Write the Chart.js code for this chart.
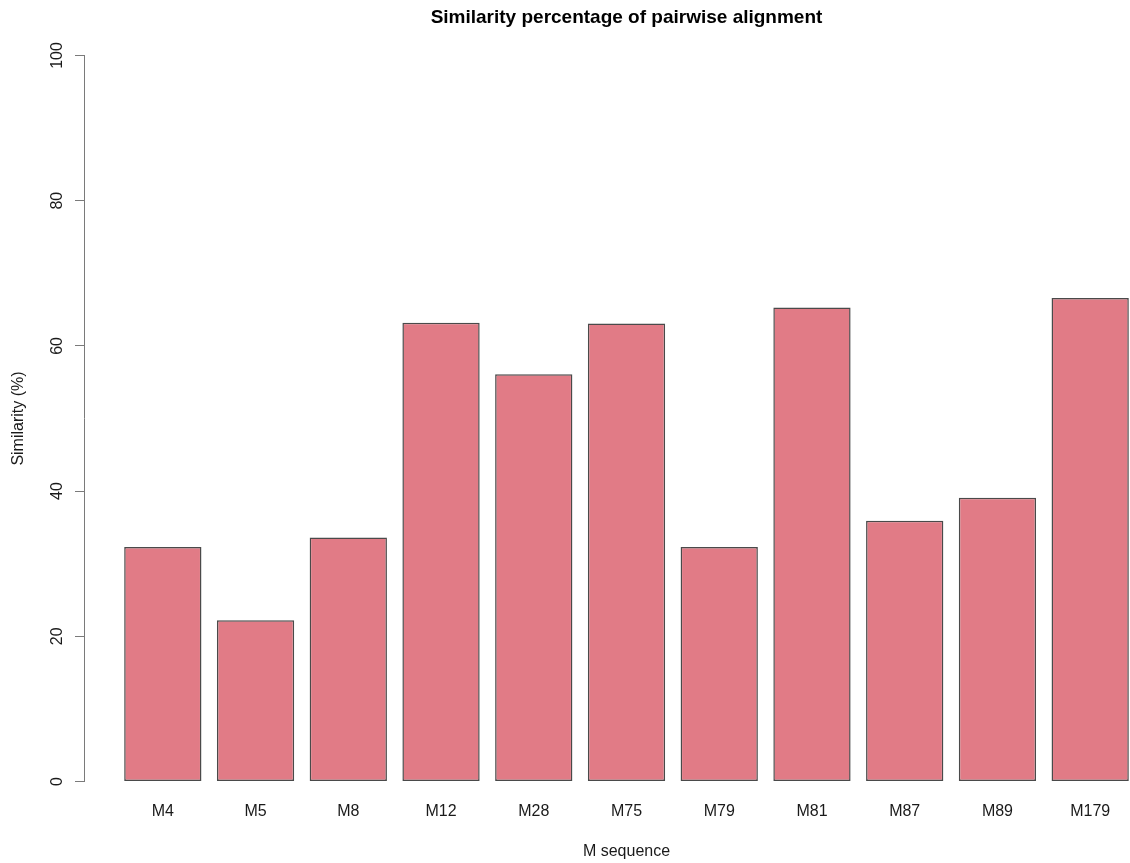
<!DOCTYPE html>
<html>
<head>
<meta charset="utf-8">
<title>Similarity percentage of pairwise alignment</title>
<script src="https://cdn.jsdelivr.net/npm/chart.js@4/dist/chart.umd.min.js"></script>
<style>
  html, body { margin: 0; padding: 0; background: #ffffff; overflow: hidden; }
  #wrap { width: 1169px; height: 863px; }
</style>
</head>
<body>
<div id="wrap"><canvas id="chart" width="1169" height="863"></canvas></div>
<script>
// Sequences compared and their similarity (%)
const categories = ['M4', 'M5', 'M8', 'M12', 'M28', 'M75', 'M79', 'M81', 'M87', 'M89', 'M179'];
const similarity = [32.3, 22.2, 33.6, 63.2, 56.1, 63.1, 32.3, 65.3, 35.9, 39.1, 66.6];
const yTicks = [0, 20, 40, 60, 80, 100];

// Bar layout in plot units: width 1, gap 0.2 (base-R barplot style)
const BAR_W = 1, GAP = 0.2;
const centerOf = i => GAP + BAR_W / 2 + i * (BAR_W + GAP);
const firstLeft = GAP, lastRight = (BAR_W + GAP) * categories.length;
const pad = (lastRight - firstLeft) * 0.04;

const FONT = '"Liberation Sans", Arial, Helvetica, sans-serif';
const INK = '#1a1a1a';
const AXIS = '#7a7a7a';

// Rotated y tick labels, placed at the y scale's tick positions
const yTickLabels = {
  id: 'yTickLabels',
  afterDraw(chart) {
    const s = chart.scales.y;
    const ctx = chart.ctx;
    ctx.save();
    ctx.font = '16px ' + FONT;
    ctx.fillStyle = INK;
    ctx.textAlign = 'center';
    ctx.textBaseline = 'alphabetic';
    s.ticks.forEach(t => {
      const y = s.getPixelForValue(t.value);
      ctx.save();
      ctx.translate(s.right - 22, y);
      ctx.rotate(-Math.PI / 2);
      ctx.fillText(String(t.value), 0, 0);
      ctx.restore();
    });
    ctx.restore();
  }
};

new Chart(document.getElementById('chart'), {
  type: 'bar',
  data: {
    datasets: [{
      data: categories.map((c, i) => ({ x: centerOf(i), y: similarity[i] })),
      backgroundColor: '#E17B86',
      borderColor: '#4a4a4a',
      borderWidth: 1.5,
      borderSkipped: false,
      categoryPercentage: 1,
      barPercentage: BAR_W / (BAR_W + GAP)
    }]
  },
  options: {
    responsive: false,
    animation: false,
    layout: { padding: 0 },
    plugins: {
      legend: { display: false },
      tooltip: { enabled: false },
      title: {
        display: true,
        fullSize: false,
        text: 'Similarity percentage of pairwise alignment',
        color: '#000000',
        font: { family: FONT, size: 19, weight: 'bold', lineHeight: 1.2 },
        padding: { top: 6, bottom: 26.7 }
      }
    },
    scales: {
      x: {
        type: 'linear',
        offset: false,
        min: firstLeft - pad,
        max: lastRight + pad,
        grid: { display: false, drawTicks: false },
        border: { display: false },
        afterBuildTicks: s => { s.ticks = categories.map((c, i) => ({ value: centerOf(i) })); },
        afterFit: s => { s.height = 81.5; },
        ticks: {
          autoSkip: false,
          maxRotation: 0,
          minRotation: 0,
          padding: 20,
          color: INK,
          font: { family: FONT, size: 16 },
          callback: (v, i) => categories[i]
        },
        title: {
          display: true,
          text: 'M sequence',
          color: INK,
          font: { family: FONT, size: 16 },
          padding: { top: 0, bottom: 2 }
        }
      },
      y: {
        min: 0,
        max: 100,
        afterBuildTicks: s => { s.ticks = yTicks.map(v => ({ value: v })); },
        afterFit: s => { s.width = 84; },
        grid: {
          drawOnChartArea: false,
          drawTicks: true,
          tickLength: 9,
          color: AXIS,
          lineWidth: 1
        },
        border: { display: true, color: AXIS, width: 1 },
        ticks: { display: false },
        title: {
          display: true,
          text: 'Similarity (%)',
          color: INK,
          font: { family: FONT, size: 16 },
          padding: { top: 9, bottom: 0 }
        }
      }
    }
  },
  plugins: [yTickLabels]
});
</script>
</body>
</html>
